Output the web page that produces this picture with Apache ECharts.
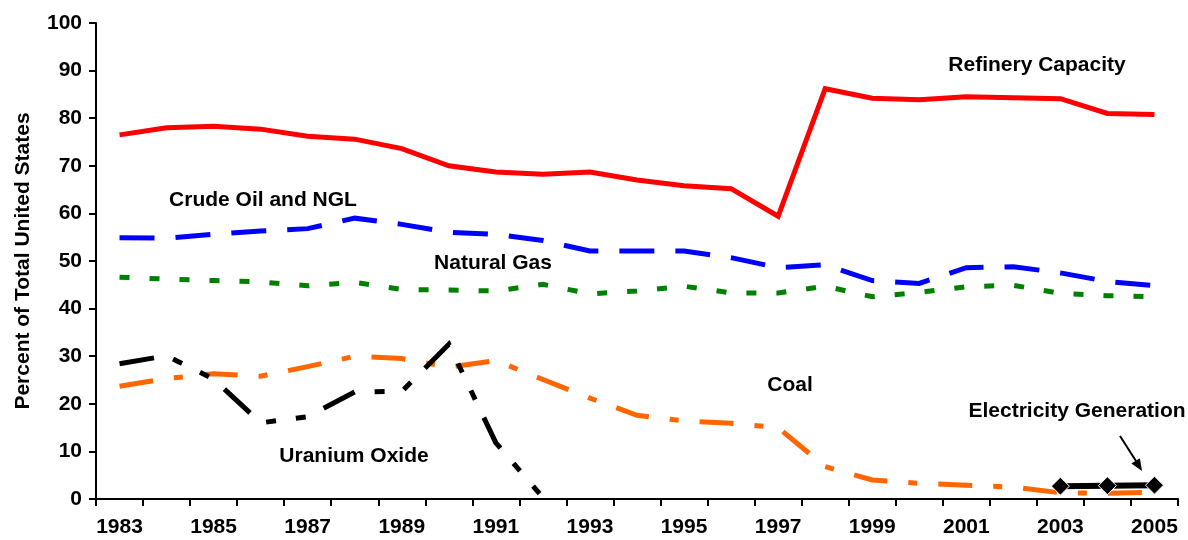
<!DOCTYPE html>
<html>
<head>
<meta charset="utf-8">
<script src="https://cdn.jsdelivr.net/npm/echarts@6/dist/echarts.min.js"></script>
<style>
html,body{margin:0;padding:0;background:#fff;}
#chart{width:1188px;height:540px;}
</style>
</head>
<body>
<div id="chart"></div>
<script>
const years = ['1983','1984','1985','1986','1987','1988','1989','1990','1991','1992','1993','1994','1995','1996','1997','1998','1999','2000','2001','2002','2003','2004','2005'];
const refineryCapacity = [76.5,78.0,78.3,77.7,76.2,75.6,73.6,70.0,68.7,68.2,68.7,67.0,65.8,65.2,59.4,86.2,84.2,83.9,84.5,84.3,84.1,81.0,80.8];
const crudeOilNGL = [54.9,54.8,55.6,56.3,56.8,59.0,57.7,56.0,55.6,54.3,52.1,52.1,52.1,50.7,48.6,49.2,45.9,45.3,48.6,48.8,47.5,45.7,44.8];
const naturalGas = [46.6,46.2,45.9,45.6,44.8,45.5,44.0,43.9,43.7,45.1,43.1,43.7,44.7,43.3,43.3,44.7,42.5,43.4,44.6,44.9,43.2,42.7,42.5];
const coal = [23.7,25.3,26.3,25.8,27.8,30.0,29.5,27.7,29.1,25.1,21.2,17.6,16.4,15.9,15.0,6.8,4.0,3.3,2.9,2.5,1.3,1.2,1.4];
const uraniumOxide = [28.4,30.1,25.2,16.0,17.3,22.5,22.6,32.5,11.8,0.3,null,null,null,null,null,null,null,null,null,null,null,null,null];
const electricityGeneration = [null,null,null,null,null,null,null,null,null,null,null,null,null,null,null,null,null,null,null,null,2.7,2.8,2.9];
const yTicks = {min:0, max:100, interval:10};

const FONT = '"Liberation Sans", Arial, sans-serif';
const FS = 21;
const chart = echarts.init(document.getElementById('chart'), null, {renderer:'canvas'});

function lineSeries(name, data, color, dash, width, z){
  return {
    name, type:'line', data, symbol:'none', z,
    connectNulls:false, animation:false,
    lineStyle:{color, width, type:dash, cap:'butt', join:'miter'}
  };
}

function txt(text, x, y){
  return {type:'text', x, y, silent:true, z:10,
    style:{text, fill:'#000', font:'bold ' + FS + 'px ' + FONT, textAlign:'center', textVerticalAlign:'middle', align:'center', verticalAlign:'middle'}};
}

const option = {
  backgroundColor:'#fff',
  animation:false,
  grid:{left:96, right:10, top:23, bottom:41},
  xAxis:{
    type:'category', data:years, boundaryGap:true,
    axisLine:{lineStyle:{color:'#000', width:2}},
    axisTick:{show:true, interval:0, length:7, lineStyle:{color:'#000', width:2}},
    axisLabel:{interval:1, color:'#000', fontFamily:FONT, fontWeight:'bold', fontSize:FS, margin:18},
    splitLine:{show:false}
  },
  yAxis:{
    type:'value', min:yTicks.min, max:yTicks.max, interval:yTicks.interval,
    name:'Percent of Total United States', nameLocation:'middle', nameRotate:90, nameGap:62,
    nameTextStyle:{color:'#000', fontFamily:FONT, fontWeight:'bold', fontSize:FS},
    axisLine:{show:true, lineStyle:{color:'#000', width:2}},
    axisTick:{show:true, length:7, lineStyle:{color:'#000', width:2}},
    axisLabel:{color:'#000', fontFamily:FONT, fontWeight:'bold', fontSize:FS, margin:14},
    splitLine:{show:false}
  },
  series:[
    lineSeries('Refinery Capacity', refineryCapacity, '#FF0000', 'solid', 5, 2),
    lineSeries('Crude Oil and NGL', crudeOilNGL, '#0000FF', [35,21], 5, 2),
    lineSeries('Natural Gas', naturalGas, '#008000', [10,20], 5, 2),
    lineSeries('Coal', coal, '#FF6600', [34,21,9,21], 5, 3),
    lineSeries('Uranium Oxide', uraniumOxide, '#000000', [35,20,10,20,10,20], 5, 4),
    {
      name:'Electricity Generation', type:'line', data:electricityGeneration, z:5,
      symbol:'diamond', symbolSize:18, showSymbol:true,
      itemStyle:{color:'#000', borderColor:'#fff', borderWidth:1},
      lineStyle:{color:'#000', width:6, type:'solid'}
    }
  ],
  graphic:[
    txt('Refinery Capacity', 1037, 65),
    txt('Crude Oil and NGL', 263, 200),
    txt('Natural Gas', 493, 263),
    txt('Coal', 790, 385),
    txt('Uranium Oxide', 354, 456),
    txt('Electricity Generation', 1077, 411),
    {type:'line', silent:true, shape:{x1:1120, y1:436, x2:1136, y2:461}, style:{stroke:'#000', lineWidth:2}},
    {type:'polygon', silent:true, shape:{points:[[1131.4,463.4],[1139.9,458.2],[1142,471]]}, style:{fill:'#000'}}
  ]
};
chart.setOption(option);
</script>
</body>
</html>
